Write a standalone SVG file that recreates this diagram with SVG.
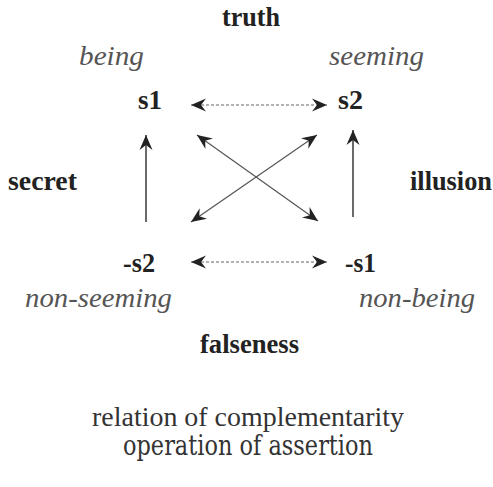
<svg xmlns="http://www.w3.org/2000/svg" width="493" height="487" viewBox="0 0 493 487">
<style>
.b{font-weight:bold;font-size:26.5px;fill:#222}
.i{font-style:italic;font-size:27px;fill:#555}
.r{font-size:27px;fill:#333}
.solid{stroke:#444;stroke-width:1.6;fill:none}
.thin{stroke:#555;stroke-width:1.2;fill:none}
.dot{stroke:#666;stroke-width:1.2;stroke-dasharray:3 2;fill:none}
</style>
<defs>
<marker id="ah" viewBox="-15 -7 16 14" refX="0" refY="0" markerWidth="16" markerHeight="14" markerUnits="userSpaceOnUse" orient="auto-start-reverse">
<path d="M0,0 L-15,-6.5 L-10,0 L-15,6.5 Z" fill="#222"/>
</marker>
</defs>
<g id="connectors">
<line class="dot" x1="191" y1="105" x2="327" y2="105" marker-start="url(#ah)" marker-end="url(#ah)"/>
<line class="dot" x1="191" y1="262" x2="327" y2="262" marker-start="url(#ah)" marker-end="url(#ah)"/>
<line class="solid" x1="146" y1="222" x2="146" y2="135" marker-end="url(#ah)"/>
<line class="solid" x1="353" y1="217" x2="353" y2="130" marker-end="url(#ah)"/>
<line class="thin" x1="191" y1="222" x2="317" y2="135" marker-start="url(#ah)" marker-end="url(#ah)"/>
<line class="thin" x1="197" y1="135" x2="318" y2="221" marker-start="url(#ah)" marker-end="url(#ah)"/>
</g>
<g font-family="Liberation Serif, Times New Roman, serif">
<g id="truth"><text class="b" font-family="Liberation Serif, serif" x="222" y="26" textLength="58" lengthAdjust="spacingAndGlyphs">truth</text></g>
<g id="being"><text class="i" font-family="Liberation Serif, serif" x="79" y="65" textLength="65" lengthAdjust="spacingAndGlyphs">being</text></g>
<g id="seeming"><text class="i" font-family="Liberation Serif, serif" x="329" y="65" textLength="95" lengthAdjust="spacingAndGlyphs">seeming</text></g>
<g id="s1"><text class="b" font-family="Liberation Serif, serif" x="138" y="109" textLength="24" lengthAdjust="spacingAndGlyphs">s1</text></g>
<g id="s2"><text class="b" font-family="Liberation Serif, serif" x="338" y="109" textLength="25" lengthAdjust="spacingAndGlyphs">s2</text></g>
<g id="secret"><text class="b" font-family="Liberation Serif, serif" x="8" y="190" textLength="69" lengthAdjust="spacingAndGlyphs">secret</text></g>
<g id="illusion"><text class="b" font-family="Liberation Serif, serif" x="410" y="190" textLength="82" lengthAdjust="spacingAndGlyphs">illusion</text></g>
<g id="neg-s2"><text class="b" font-family="Liberation Serif, serif" x="123" y="272" textLength="32" lengthAdjust="spacingAndGlyphs">-s2</text></g>
<g id="neg-s1"><text class="b" font-family="Liberation Serif, serif" x="345" y="272" textLength="31" lengthAdjust="spacingAndGlyphs">-s1</text></g>
<g id="non-seeming"><text class="i" font-family="Liberation Serif, serif" x="25" y="307" textLength="147" lengthAdjust="spacingAndGlyphs">non-seeming</text></g>
<g id="non-being"><text class="i" font-family="Liberation Serif, serif" x="359" y="307" textLength="116" lengthAdjust="spacingAndGlyphs">non-being</text></g>
<g id="falseness"><text class="b" font-family="Liberation Serif, serif" x="200" y="353" textLength="99" lengthAdjust="spacingAndGlyphs">falseness</text></g>
<g id="legend">
<text class="r" font-family="Liberation Serif, serif" x="92" y="426" textLength="312" lengthAdjust="spacingAndGlyphs">relation of complementarity</text>
<text class="r" font-family="DejaVu Serif, serif" x="123" y="455" textLength="250" lengthAdjust="spacingAndGlyphs">operation of assertion</text>
</g>
</g>
</svg>
